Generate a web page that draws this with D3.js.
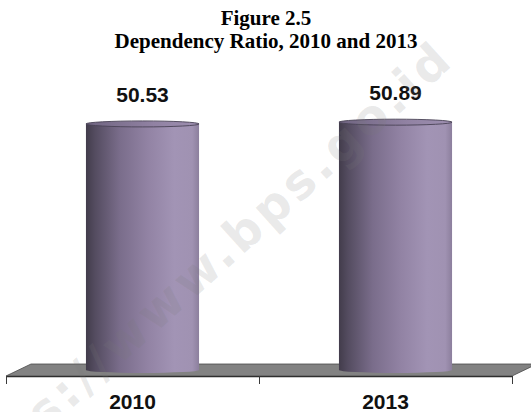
<!DOCTYPE html>
<html>
<head>
<meta charset="utf-8">
<script src="https://cdn.jsdelivr.net/npm/d3@7"></script>
<style>
  html, body { margin: 0; padding: 0; background: #fff; }
  svg { display: block; }
</style>
</head>
<body>
<svg id="chart" width="531" height="412"></svg>
<script>
// Dependency ratio by census year
const years = ["2010", "2013"];
const ratios = [50.53, 50.89];
const titleLines = ["Figure 2.5", "Dependency Ratio, 2010 and 2013"];
const watermark = "https://www.bps.go.id";

const W = 531, H = 412;
const svg = d3.select("#chart");

// Plot geometry: floor front edge and 3D depth offset
const left = 6, right = 512, floorFront = 376;
const depthX = 25, depthY = 12;
const barShift = 10, barBase = floorFront - depthY / 2;

const x = d3.scaleBand().domain(years).range([left, right])
  .paddingInner(0.553).paddingOuter(0.2765);
const barW = x.bandwidth();
const y = d3.scaleLinear().domain([0, 60]).range([barBase, barBase - 60 * 4.87]);
const tickPos = d3.scaleLinear().domain([0, years.length]).range([left, right]);

// Gradients for cylinder body and cap
const defs = svg.append("defs");
const body = defs.append("linearGradient").attr("id", "cylBody")
  .attr("x1", "0%").attr("x2", "100%").attr("y1", "0%").attr("y2", "0%");
[["0%", "#423c4b"], ["8%", "#544c60"], ["30%", "#7a6d8b"], ["55%", "#9283a4"],
 ["78%", "#a294b5"], ["94%", "#a092b2"], ["100%", "#8c7f9d"]]
  .forEach(([o, c]) => body.append("stop").attr("offset", o).attr("stop-color", c));
const cap = defs.append("linearGradient").attr("id", "cylCap")
  .attr("x1", "0%").attr("x2", "100%").attr("y1", "0%").attr("y2", "0%");
[["0%", "#6f6480"], ["60%", "#9182a3"], ["100%", "#9d8fb0"]]
  .forEach(([o, c]) => cap.append("stop").attr("offset", o).attr("stop-color", c));

// Title
svg.append("g").selectAll("text").data(titleLines).join("text")
  .attr("x", 266).attr("y", (d, i) => 25 + i * 23)
  .attr("text-anchor", "middle")
  .attr("font-family", "'Liberation Serif', 'Times New Roman', serif")
  .attr("font-weight", "bold").attr("font-size", 21).attr("fill", "#000")
  .text(d => d);

// Floor
const floor = svg.append("g");
floor.append("path")
  .attr("d", `M${left},${floorFront} L${left + depthX},${floorFront - depthY} L${right + depthX},${floorFront - depthY} L${right},${floorFront} Z`)
  .attr("fill", "#828282").attr("stroke", "#4a4a4a").attr("stroke-width", 0.8);
floor.append("line")
  .attr("x1", left).attr("x2", right).attr("y1", floorFront + 1.5).attr("y2", floorFront + 1.5)
  .attr("stroke", "#c8c8c8").attr("stroke-width", 1);

// Axis with ticks at category boundaries
const axis = svg.append("g").attr("transform", `translate(0,${floorFront})`)
  .call(d3.axisBottom(tickPos).tickValues(d3.range(years.length + 1))
    .tickSize(8).tickSizeOuter(0).tickFormat(""));
axis.select(".domain").attr("stroke", "#2e2e2e").attr("stroke-width", 1.2);
axis.selectAll(".tick line").attr("stroke", "#3a3a3a");

// Category labels
svg.append("g").selectAll("text").data(years).join("text")
  .attr("x", d => x(d) + barW / 2).attr("y", 409)
  .attr("text-anchor", "middle")
  .attr("font-family", "'Liberation Sans', Arial, sans-serif")
  .attr("font-weight", "bold").attr("font-size", 21).attr("fill", "#111")
  .text(d => d);

// Cylinders
const rx = barW / 2, ry = 3;
const bars = svg.append("g").selectAll("g").data(years).join("g");
bars.append("path")
  .attr("d", (d, i) => {
    const x0 = x(d) + barShift, x1 = x0 + barW, yt = y(ratios[i]);
    return `M${x0},${yt} L${x0},${barBase} A${rx},${ry} 0 0 0 ${x1},${barBase} L${x1},${yt} Z`;
  })
  .attr("fill", "url(#cylBody)");
bars.append("ellipse")
  .attr("cx", d => x(d) + barShift + rx)
  .attr("cy", (d, i) => y(ratios[i]))
  .attr("rx", rx).attr("ry", ry)
  .attr("fill", "url(#cylCap)").attr("stroke", "#4a4356").attr("stroke-width", 0.9);

// Value labels
svg.append("g").selectAll("text").data(years).join("text")
  .attr("x", d => x(d) + barShift + rx)
  .attr("y", (d, i) => y(ratios[i]) - 22)
  .attr("text-anchor", "middle")
  .attr("font-family", "'Liberation Sans', Arial, sans-serif")
  .attr("font-weight", "bold").attr("font-size", 21).attr("fill", "#111")
  .text((d, i) => ratios[i].toFixed(2));

// Diagonal site watermark
svg.append("text")
  .attr("transform", "translate(-52,520) rotate(-42)")
  .attr("font-family", "'DejaVu Sans', Verdana, sans-serif")
  .attr("font-weight", "bold").attr("font-size", 48)
  .attr("textLength", 680).attr("lengthAdjust", "spacing")
  .attr("fill", "#7a7a7a").attr("fill-opacity", 0.17)
  .text(watermark);
</script>
</body>
</html>
